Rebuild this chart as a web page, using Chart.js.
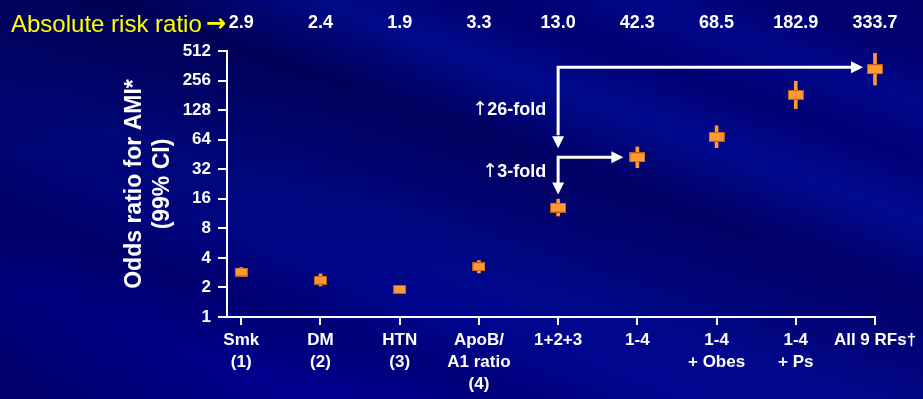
<!DOCTYPE html>
<html>
<head>
<meta charset="utf-8">
<script src="https://cdn.jsdelivr.net/npm/chart.js@4.4.1/dist/chart.umd.min.js"></script>
<style>
  html, body { margin: 0; padding: 0; }
  body {
    width: 923px; height: 399px; overflow: hidden;
    background-color: #000080;
    background-image:
      linear-gradient(90deg, rgba(0,0,40,0.25) 0%, rgba(0,0,0,0) 45%, rgba(10,10,180,0.15) 100%),
      linear-gradient(200deg, #000060 0%, #000068 8%, #000784 14%, #00006e 22%, #000a8c 30%, #00005e 40%,
        #000472 50%, #000888 58%, #00068e 66%, #00007a 74%, #000098 84%, #000082 100%);
  }
  #chart { display: block; }
</style>
</head>
<body>
<canvas id="chart" width="923" height="399"></canvas>
<script>
const categories = [
  ['Smk', '(1)'], ['DM', '(2)'], ['HTN', '(3)'], ['ApoB/', 'A1 ratio', '(4)'],
  ['1+2+3'], ['1-4'], ['1-4', '+ Obes'], ['1-4', '+ Ps'], ['All 9 RFs\u2020']
];
const oddsRatios = [2.87, 2.37, 1.91, 3.25, 13.01, 42.3, 68.5, 182.9, 333.7];
const ciLow      = [2.58, 2.07, 1.74, 2.81, 10.69, 33.2, 53.0, 132.6, 230.2];
const ciHigh     = [3.19, 2.75, 2.10, 3.76, 15.83, 54.0, 88.6, 252.2, 483.9];
const absoluteRisk = ['2.9', '2.4', '1.9', '3.3', '13.0', '42.3', '68.5', '182.9', '333.7'];
const yTicks = [1, 2, 4, 8, 16, 32, 64, 128, 256, 512];

const FONT = "'Liberation Sans', Arial, sans-serif";
const ORANGE = '#ff9933';

function makeMarker(w, h) {
  const c = document.createElement('canvas');
  c.width = w; c.height = h;
  const g = c.getContext('2d');
  g.fillStyle = '#b8601e';
  g.fillRect(0, 0, w, h);
  g.fillStyle = ORANGE;
  g.fillRect(1, 1, w - 2, h - 2);
  return c;
}
const smallMarker = makeMarker(13, 9);
const bigMarker = makeMarker(16, 10);

function arrowHead(ctx, x, y, dir) {
  ctx.beginPath();
  if (dir === 'right') {
    ctx.moveTo(x, y); ctx.lineTo(x - 12, y - 6); ctx.lineTo(x - 12, y + 6);
  } else {
    ctx.moveTo(x, y); ctx.lineTo(x - 6, y - 12); ctx.lineTo(x + 6, y - 12);
  }
  ctx.closePath();
  ctx.fill();
}

// label with a thin tall up-arrow in front, right aligned at x
function foldLabel(ctx, text, x, y) {
  ctx.font = 'bold 18px ' + FONT;
  ctx.textAlign = 'right';
  ctx.fillText(text, x, y);
  const w = ctx.measureText(text).width;
  ctx.font = '19px "DejaVu Sans", sans-serif';
  ctx.fillText('\u2191', x - w + 1, y);
}

const overlay = {
  id: 'overlay',
  afterDraw(chart) {
    const ctx = chart.ctx;
    const xs = chart.scales.x, ys = chart.scales.y;
    ctx.save();
    // top row
    ctx.fillStyle = '#ffff00';
    ctx.font = '24px ' + FONT;
    ctx.textAlign = 'left';
    ctx.textBaseline = 'alphabetic';
    ctx.fillText('Absolute risk ratio', 11, 32);
    ctx.font = 'bold 24px "DejaVu Sans", sans-serif';
    ctx.fillText('\u2192', 206, 31);
    ctx.fillStyle = '#ffffff';
    ctx.font = 'bold 18px ' + FONT;
    ctx.textAlign = 'center';
    absoluteRisk.forEach((t, i) => ctx.fillText(t, xs.getPixelForValue(i), 28));

    // fold-change arrows
    const x4 = xs.getPixelForValue(4);
    const yTop = ys.getPixelForValue(oddsRatios[8]) - 2;
    const yMid = ys.getPixelForValue(oddsRatios[5]);
    ctx.strokeStyle = '#ffffff';
    ctx.lineWidth = 3;
    ctx.beginPath();
    ctx.moveTo(x4, yMid - 22);
    ctx.lineTo(x4, yTop);
    ctx.lineTo(xs.getPixelForValue(8) - 22, yTop);
    ctx.stroke();
    arrowHead(ctx, x4, yMid - 9, 'down');
    arrowHead(ctx, xs.getPixelForValue(8) - 12, yTop, 'right');

    ctx.beginPath();
    ctx.moveTo(x4, ys.getPixelForValue(oddsRatios[4]) - 24);
    ctx.lineTo(x4, yMid);
    ctx.lineTo(xs.getPixelForValue(5) - 24, yMid);
    ctx.stroke();
    arrowHead(ctx, x4, ys.getPixelForValue(oddsRatios[4]) - 13, 'down');
    arrowHead(ctx, xs.getPixelForValue(5) - 14, yMid, 'right');

    ctx.textBaseline = 'middle';
    foldLabel(ctx, '26-fold', x4 - 12, ys.getPixelForValue(128));
    foldLabel(ctx, '3-fold', x4 - 12, ys.getPixelForValue(30));
    ctx.restore();
  }
};

new Chart(document.getElementById('chart'), {
  data: {
    datasets: [
      {
        type: 'bar',
        data: categories.map((c, i) => ({ x: i, y: [ciLow[i], ciHigh[i]] })),
        backgroundColor: ORANGE,
        barThickness: 3,
        clip: false,
        order: 2
      },
      {
        type: 'scatter',
        data: categories.map((c, i) => ({ x: i, y: oddsRatios[i] })),
        pointStyle: ctx => (ctx.dataIndex < 4 ? smallMarker : bigMarker),
        clip: false,
        order: 1
      }
    ]
  },
  options: {
    responsive: false,
    animation: false,
    devicePixelRatio: 1,
    layout: { padding: { top: 51, right: 48, left: 0, bottom: 0 } },
    plugins: { legend: { display: false }, tooltip: { enabled: false } },
    scales: {
      x: {
        type: 'linear',
        min: -0.18,
        max: 8,
        offset: false,
        afterBuildTicks: s => { s.ticks = categories.map((c, i) => ({ value: i })); },
        afterFit: s => { s.height = 82; },
        ticks: {
          color: '#ffffff',
          font: { family: FONT, size: 17, weight: 'bold', lineHeight: 1.3 },
          padding: 4,
          maxRotation: 0,
          autoSkip: false,
          callback: v => categories[v]
        },
        grid: { offset: false, drawOnChartArea: false, color: '#ffffff', lineWidth: 2, tickLength: 8 },
        border: { color: '#ffffff', width: 2 }
      },
      y: {
        type: 'logarithmic',
        min: 1,
        max: 512,
        afterBuildTicks: s => { s.ticks = yTicks.map(v => ({ value: v })); },
        afterFit: s => { s.width = 227; },
        ticks: {
          color: '#ffffff',
          font: { family: FONT, size: 17, weight: 'bold' },
          padding: 7,
          autoSkip: false,
          callback: v => String(v)
        },
        grid: { drawOnChartArea: false, color: '#ffffff', lineWidth: 2, tickLength: 9 },
        border: { color: '#ffffff', width: 2 },
        title: {
          display: true,
          text: ['Odds ratio for AMI*', '(99% CI)'],
          color: '#ffffff',
          font: { family: FONT, size: 23, weight: 'bold', lineHeight: 1.22 },
          padding: { top: 121, bottom: 0 }
        }
      }
    }
  },
  plugins: [overlay]
});
</script>
</body>
</html>
